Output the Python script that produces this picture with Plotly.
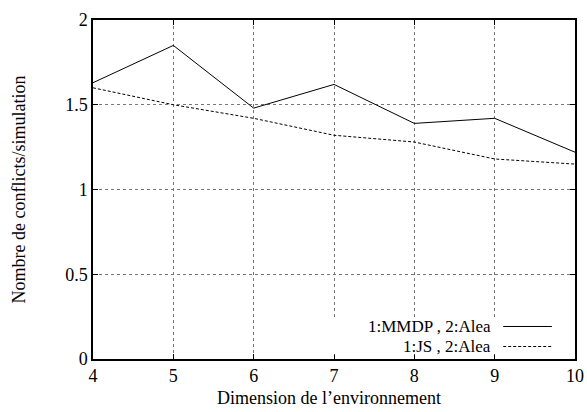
import plotly.graph_objects as go

x_dim = [4, 5, 6, 7, 8, 9, 10]
mmdp_alea = [1.63, 1.85, 1.48, 1.62, 1.39, 1.42, 1.22]
js_alea = [1.60, 1.50, 1.42, 1.32, 1.28, 1.18, 1.15]
series_names = ["1:MMDP , 2:Alea", "1:JS , 2:Alea"]
y_ticks = [0, 0.5, 1, 1.5, 2]
y_labels = ["0", "0.5", "1", "1.5", "2"]
x_title = "Dimension de l\u2019environnement"
y_title = "Nombre de conflicts/simulation"

FONT = "Liberation Serif"
FS = 18

fig = go.Figure()
fig.add_trace(go.Scatter(x=x_dim, y=mmdp_alea, mode="lines", name=series_names[0],
                         line=dict(color="black", width=1), showlegend=False))
fig.add_trace(go.Scatter(x=x_dim, y=js_alea, mode="lines", name=series_names[1],
                         line=dict(color="black", width=1, dash="3px,2px"), showlegend=False))

axis_common = dict(showline=True, linecolor="black", linewidth=1.5, mirror="allticks",
                   ticks="inside", ticklen=5, tickcolor="black", showgrid=True,
                   gridcolor="#777", griddash="dot", gridwidth=1, zeroline=False,
                   automargin=False,
                   tickfont=dict(family=FONT, size=FS, color="black"))

fig.update_xaxes(range=[4, 10], tickvals=x_dim, ticktext=[str(v) for v in x_dim], **axis_common)
fig.update_yaxes(range=[0, 2], tickvals=y_ticks, ticktext=y_labels, **axis_common)

# axis titles
fig.add_annotation(xref="paper", yref="paper", x=0.49, y=0, yshift=-39, text=x_title,
                   showarrow=False, xanchor="center", yanchor="middle",
                   font=dict(family=FONT, size=FS, color="black"))
fig.add_annotation(xref="paper", yref="paper", x=0, y=0.5, xshift=-75, text=y_title,
                   textangle=-90, showarrow=False, xanchor="center", yanchor="middle",
                   font=dict(family=FONT, size=FS, color="black"))

# legend: white box masking grid, text right-aligned, line samples
fig.add_shape(type="rect", xref="paper", yref="paper", x0=0.481, x1=0.97, y0=0.014, y1=0.124,
              fillcolor="white", line=dict(width=0), layer="above")
rows_y = [0.0959, 0.0369]
dashes = ["solid", "3px,2px"]
for name, yy, d in zip(series_names, rows_y, dashes):
    fig.add_annotation(xref="paper", yref="paper", x=0.828, y=yy, text=name, showarrow=False,
                       xanchor="right", yanchor="middle", borderpad=0,
                       font=dict(family=FONT, size=17, color="black"))
    fig.add_shape(type="line", xref="paper", yref="paper", x0=0.851, x1=0.952, y0=yy, y1=yy,
                  line=dict(color="black", width=1, dash=d), layer="above")

fig.update_layout(width=587, height=412, margin=dict(l=93, r=12, t=20, b=53),
                  plot_bgcolor="white", paper_bgcolor="white",
                  font=dict(family=FONT, color="black"))

fig.write_html("out.html")
